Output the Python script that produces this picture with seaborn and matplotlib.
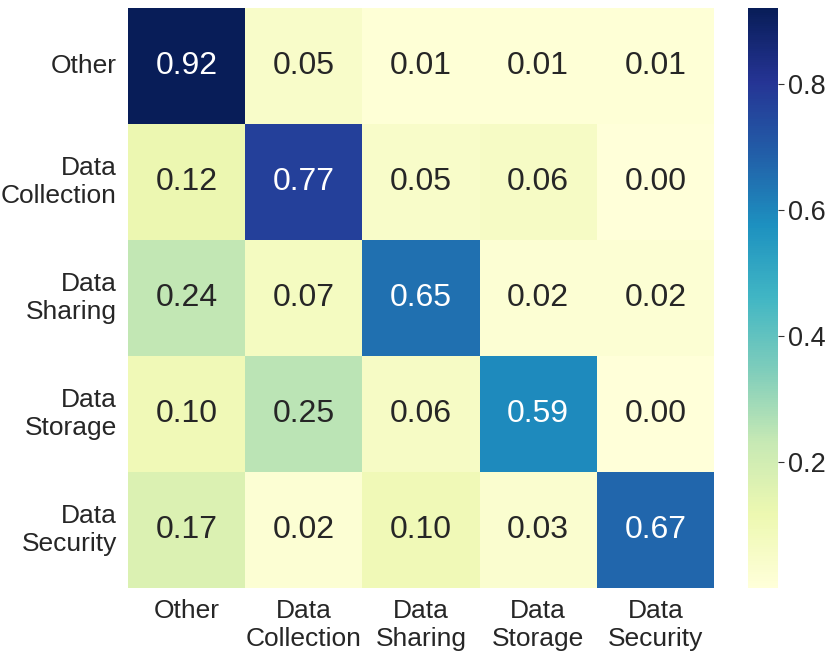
import matplotlib
matplotlib.use("Agg")
import matplotlib.pyplot as plt
import seaborn as sns
import numpy as np
import pandas as pd

labels = ["Other", "Data\nCollection", "Data\nSharing", "Data\nStorage", "Data\nSecurity"]
row_other = [0.92, 0.05, 0.01, 0.01, 0.01]
row_collection = [0.12, 0.77, 0.05, 0.06, 0.00]
row_sharing = [0.24, 0.07, 0.65, 0.02, 0.02]
row_storage = [0.10, 0.25, 0.06, 0.59, 0.00]
row_security = [0.17, 0.02, 0.10, 0.03, 0.67]

sns.set_theme(style="white")
plt.rcParams['font.family'] = ['Liberation Sans', 'DejaVu Sans']

df = pd.DataFrame([row_other, row_collection, row_sharing, row_storage, row_security],
                  index=labels, columns=labels)

fig = plt.figure(figsize=(8.3, 6.53), dpi=100)
ax = fig.add_axes([128/830, 65/653, 586/830, 580/653])
cax = fig.add_axes([748/830, 65/653, 30/830, 580/653])
sns.heatmap(df, annot=True, fmt=".2f", cmap="YlGnBu", ax=ax, cbar_ax=cax,
            annot_kws={"size": 23})
ax.tick_params(axis='both', labelsize=19, length=0, pad=8)
ax.set_yticklabels(labels, rotation=0, ha='right', va='center')
ax.set_xticklabels(labels, rotation=0)
cax.tick_params(labelsize=19.5, length=4, width=0.8, color='#333333', pad=3)
cax.set_yticks([0.2, 0.4, 0.6, 0.8])
cax.set_yticklabels(["0.2", "0.4", "0.6", "0.8"])
for t in ax.get_xticklabels() + ax.get_yticklabels() + cax.get_yticklabels():
    t.set_color('#262626')
fig.savefig("out.png", dpi=100)
